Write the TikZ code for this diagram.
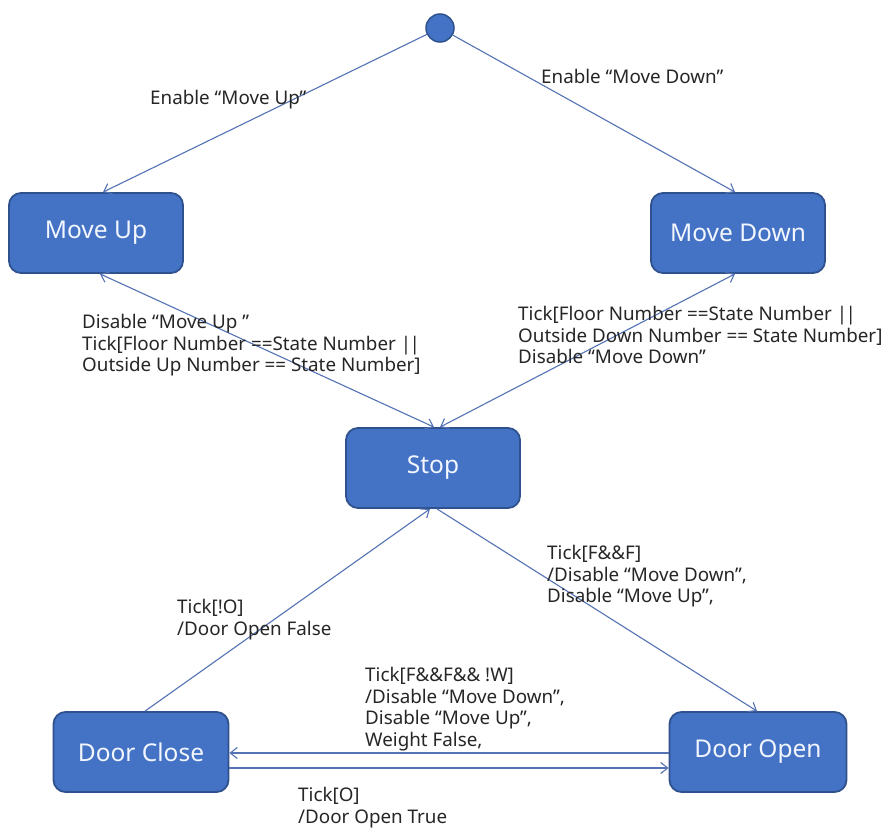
\documentclass[tikz,border=0pt]{standalone}
\usepackage{fontspec}
\setmainfont{Noto Sans}
\usetikzlibrary{arrows.meta}
\definecolor{boxfill}{HTML}{4472C4}
\definecolor{boxline}{HTML}{2F528F}
\definecolor{wire}{HTML}{5473B5}
\definecolor{ink}{HTML}{262626}
\definecolor{boxtext}{HTML}{F2F6FF}
\newcommand{\oror}{|\kern-1.5pt|}
\begin{document}
\begin{tikzpicture}[x=1pt,y=-1pt,
  state/.style={draw=boxline, line width=1.8pt, fill=boxfill, rounded corners=12pt,
    minimum width=174pt, minimum height=80pt, inner sep=0pt,
    text=boxtext, font=\fontsize{24.5}{28}\selectfont},
  initial/.style={circle, draw=boxline, line width=1.5pt, fill=boxfill, minimum size=28pt, inner sep=0pt},
  wirearrow/.style={draw=wire, line width=1.1pt, -{Straight Barb[length=7pt,width=11pt]}},
  wireboth/.style={draw=wire, line width=1.1pt, {Straight Barb[length=7pt,width=11pt]}-{Straight Barb[length=7pt,width=11pt]}},
  lbl/.style={text=ink, align=left, inner sep=0pt, anchor=north west,
    font=\fontsize{18.8}{21.6}\selectfont}]
\useasboundingbox (0,0) rectangle (894,830);
\fill[white] (0,0) rectangle (894,830);

% states
\node[initial] (init) at (440,28) {};
\node[state] (mu) at (96,233) {Move Up};
\node[state] (md) at (738,233) {Move Down};
\node[state] (st) at (433,468) {Stop};
\node[state, minimum width=175pt] (dc) at (141,752) {Door Close};
\node[state, minimum width=177pt] (do) at (758,752) {Door Open};

% transitions
\draw[wirearrow] (init) -- ([xshift=7pt]mu.north);
\draw[wirearrow] (init) -- ([xshift=-3pt]md.north);
\draw[wireboth] ([xshift=4pt]mu.south) -- ([xshift=1pt]st.north);
\draw[wireboth] ([xshift=-3pt]md.south) -- ([xshift=7pt]st.north);
\draw[wirearrow] ([xshift=4pt]dc.north) -- ([xshift=-3pt]st.south);
\draw[wirearrow] ([xshift=4pt]st.south) -- ([xshift=-1pt]do.north);
\draw[wirearrow] ([yshift=-1pt]do.west) -- ([yshift=-1pt]dc.east);
\draw[wirearrow] ([yshift=-16pt]dc.east) -- ([yshift=-16pt]do.west);

% transition labels
\node[lbl, anchor=west] (l1) at (150,100) {Enable “Move Up”};
\node[lbl, anchor=west] (l2) at (541,76) {Enable “Move Down”};
\node[lbl] (l3) at (82,314) {Disable “Move Up ”\\Tick[Floor Number ==State Number \oror\\Outside Up Number == State Number]};
\node[lbl] (l4) at (518,306) {Tick[Floor Number ==State Number \oror\\Outside Down Number == State Number]\\Disable “Move Down”};
\node[lbl] (l5) at (547,545) {Tick[F\&\&F]\\/Disable “Move Down”,\\Disable “Move Up”,};
\node[lbl] (l6) at (177,599) {Tick[!O]\\/Door Open False};
\node[lbl] (l7) at (365,667) {Tick[F\&\&F\&\& !W]\\/Disable “Move Down”,\\Disable “Move Up”,\\Weight False,};
\node[lbl] (l8) at (298,787) {Tick[O]\\/Door Open True};
\end{tikzpicture}
\end{document}
